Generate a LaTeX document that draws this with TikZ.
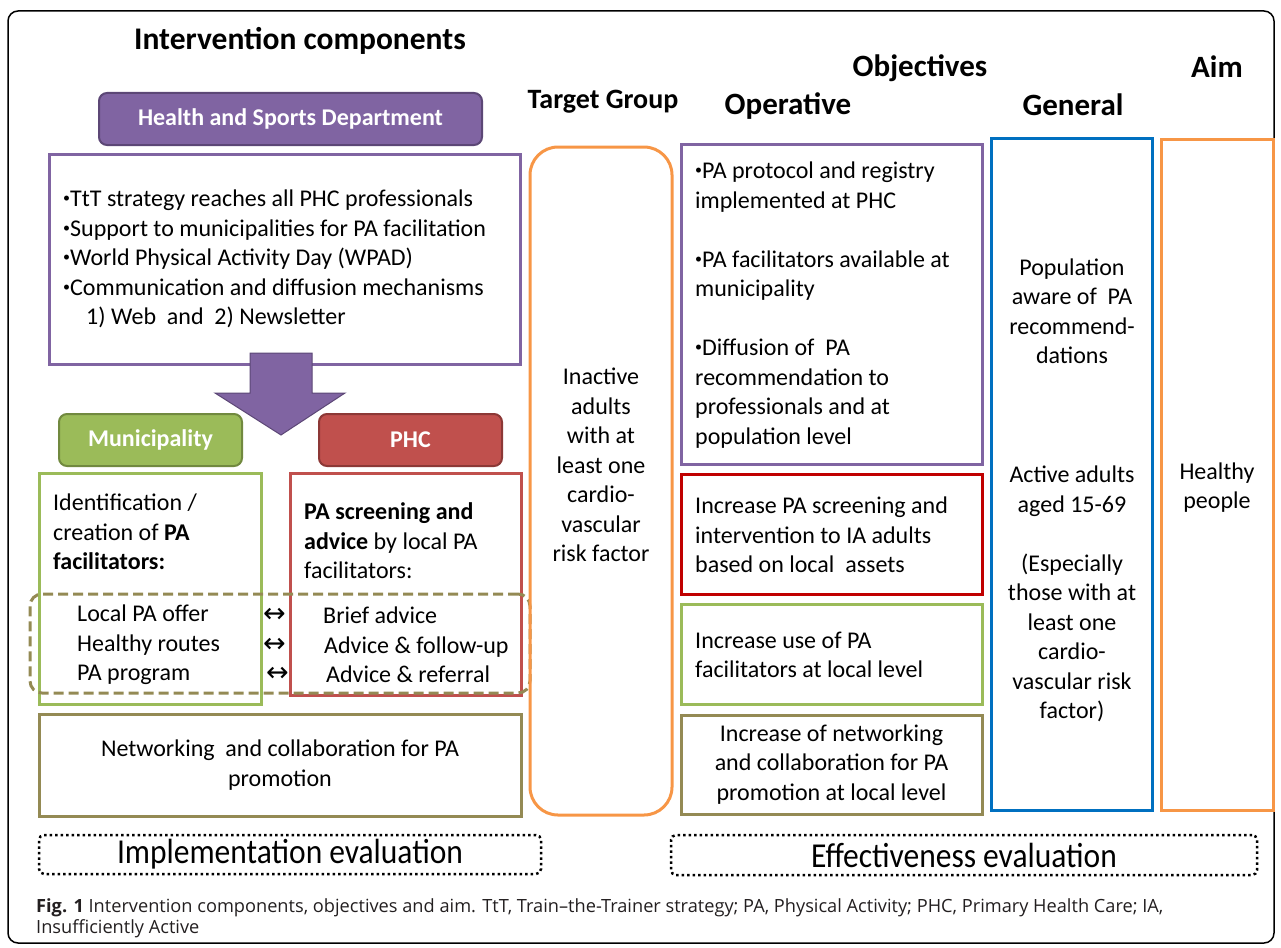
\documentclass[tikz,border=0pt]{standalone}
\usepackage{fontspec}
\setmainfont{Carlito}
\newfontfamily\capfont{Open Sans}
\newfontfamily\arrfont{DejaVu Sans}
\newfontfamily\evalfont[FakeStretch=0.9]{Carlito}

\definecolor{hsdpurple}{HTML}{8064A2}
\definecolor{hsdedge}{HTML}{5C4776}
\definecolor{munigreen}{HTML}{9BBB59}
\definecolor{muniedge}{HTML}{71893F}
\definecolor{phcred}{HTML}{C0504D}
\definecolor{phcedge}{HTML}{8C3836}
\definecolor{olive}{HTML}{948A54}
\definecolor{tgorange}{HTML}{F79646}
\definecolor{genblue}{HTML}{0070C0}
\definecolor{opred}{HTML}{C00000}
\definecolor{captext}{HTML}{231F20}

% 小号圆点
\newcommand{\bul}{\raisebox{4pt}{\fontsize{14}{14}\selectfont•}}

\begin{document}
\begin{tikzpicture}[x=1pt, y=-1pt,
    every node/.style={inner sep=0pt},
    head/.style={font=\bfseries\fontsize{31}{36}\selectfont},
    tag/.style={rectangle, rounded corners=8pt, line width=2pt, text=white,
      font=\bfseries\fontsize{24}{29}\selectfont},
    obox/.style={rectangle, line width=3pt},
    body/.style={font=\fontsize{24}{29.5}\selectfont, align=left},
    cbody/.style={font=\fontsize{24}{29.5}\selectfont, align=center},
    evalbox/.style={rectangle, draw=black, line width=2.5pt,
      dash pattern=on 2.5pt off 3pt, rounded corners=5pt,
      font=\evalfont\fontsize{35}{40}\selectfont}]

  \useasboundingbox (0,0) rectangle (1281,947);

  % 外框
  \node[rectangle, draw=black, line width=1.5pt, rounded corners=10pt,
    minimum width=1266pt, minimum height=932pt] (page) at (641,477) {};

  % 栏目标题
  \node[head, font=\bfseries\fontsize{31.5}{36}\selectfont] (intcomp) at (300,41) {Intervention components};
  \node[head] (objt) at (920,68) {Objectives};
  \node[head] (aimt) at (1217,67) {Aim};
  \node[head, font=\bfseries\fontsize{28}{33}\selectfont] (tgt) at (603,102) {Target Group};
  \node[head] (opt) at (788,106) {Operative};
  \node[head] (gent) at (1073,105) {General};

  % 卫生与体育部门
  \node[tag, fill=hsdpurple, draw=hsdedge, minimum width=383pt, minimum height=52pt]
    (hsd) at (290.5,119) {Health and Sports Department};
  \node[obox, draw=hsdpurple, minimum width=471pt, minimum height=210pt] (pbox) at (284.5,259) {};
  \node[body, anchor=west] (pboxtxt) at (63,259) {%
    \bul TtT strategy reaches all PHC professionals\\
    \bul Support to municipalities for PA facilitation\\
    \bul World Physical Activity Day (WPAD)\\
    \bul Communication and diffusion mechanisms\\
    \hspace*{23pt}1) Web\ \ and\ \ 2) Newsletter};

  % 向下的大箭头
  \filldraw[fill=hsdpurple, draw=hsdedge, line width=1pt]
    (250,353) -- (312,353) -- (312,393) -- (345,393) -- (281,435)
    -- (215,393) -- (250,393) -- cycle;

  % 市政与初级卫生保健
  \node[tag, fill=munigreen, draw=muniedge, minimum width=183pt, minimum height=52pt]
    (muni) at (150.5,440) {Municipality};
  \node[tag, fill=phcred, draw=phcedge, minimum width=183pt, minimum height=52pt]
    (phc) at (410.5,440) {PHC};
  \node[obox, draw=munigreen, minimum width=222pt, minimum height=231pt] (gbox) at (150,588.5) {};
  \node[obox, draw=phcred, minimum width=231pt, minimum height=222pt] (rbox) at (405.5,584) {};
  \node[body, anchor=west] (gboxtxt) at (53,532) {%
    Identification /\\creation of \textbf{PA}\\\textbf{facilitators:}};
  \node[body, anchor=west] (rboxtxt) at (304,541) {%
    \textbf{PA screening and}\\\textbf{advice} by local PA\\facilitators:};

  % 虚线框：两边一一对应
  \node[rectangle, draw=olive, line width=3pt, dash pattern=on 10pt off 5pt,
    rounded corners=12pt, minimum width=500pt, minimum height=99pt] (pairs) at (280,643.5) {};
  \node[body, anchor=west] (offer) at (77,645) {Local PA offer\\Healthy routes\\PA program};
  \node[body, anchor=west, font=\arrfont\fontsize{27}{29.5}\selectfont] (links) at (263,645) {%
    ↔\\↔\\\hspace*{3pt}↔};
  \node[body, anchor=west] (advice) at (323,645) {%
    Brief advice\\\hspace*{1pt}Advice \& follow-up\\\hspace*{3pt}Advice \& referral};

  % 网络与合作
  \node[obox, draw=olive, cbody, minimum width=482pt, minimum height=102pt] (net) at (280,765) {%
    Networking\ \ and collaboration for PA\\promotion};

  % 目标人群
  \node[obox, draw=tgorange, rounded corners=28pt, minimum width=142pt, minimum height=668pt]
    (tgbox) at (601,481) {};
  \node[cbody] (tgtxt) at (601,465) {%
    Inactive\\adults\\with at\\least one\\cardio-\\vascular\\risk factor};

  % 操作性目标
  \node[obox, draw=hsdpurple, minimum width=301pt, minimum height=320pt] (op1) at (831.5,304) {};
  \node[body, anchor=west] (op1txt) at (695,305) {%
    \bul PA protocol and registry\\implemented at PHC\\[29.5pt]
    \bul PA facilitators available at\\municipality\\[29.5pt]
    \bul Diffusion of\ \ PA\\recommendation to\\professionals and at\\population level};
  \node[obox, draw=opred, minimum width=301pt, minimum height=120pt] (op2) at (831.5,534) {};
  \node[body, anchor=west] (op2txt) at (695,535) {%
    Increase PA screening and\\intervention to IA adults\\based on local\ \ assets};
  \node[obox, draw=munigreen, minimum width=301pt, minimum height=100pt] (op3) at (831.5,654) {};
  \node[body, anchor=west] (op3txt) at (695,655) {%
    Increase use of PA\\facilitators at local level};
  \node[obox, draw=olive, cbody, minimum width=301pt, minimum height=99pt] (op4) at (831.5,764.5) {%
    Increase of networking\\and collaboration for PA\\promotion at local level};

  % 总体目标
  \node[obox, draw=genblue, minimum width=161pt, minimum height=672pt] (gen) at (1071.5,474) {};
  \node[cbody] (gentxt) at (1072,311.5) {%
    Population\\aware of\ \ PA\\recommend-\\dations};
  \node[cbody] (acttxt) at (1072,594) {%
    Active adults\\aged 15-69\\[29.5pt](Especially\\those with at\\least one\\cardio-\\vascular risk\\factor)};

  % 最终目的
  \node[obox, draw=tgorange, minimum width=112pt, minimum height=671pt] (aim) at (1217,474.5) {};
  \node[cbody] (aimtxt) at (1217,487.5) {Healthy\\people};

  % 评价
  \node[evalbox, minimum width=502pt, minimum height=39pt] (impl) at (290,854.5)
    {Implementation\hspace{7pt}evaluation};
  \node[evalbox, minimum width=586pt, minimum height=40pt] (eff) at (964,855)
    {Effectiveness\hspace{7pt}evaluation};

  % 图注
  \node[anchor=west, align=left, text=captext, font=\capfont\fontsize{18.2}{21}\selectfont]
    (cap) at (36,918) {%
    \textbf{Fig. 1} Intervention components, objectives and aim. TtT, Train–the-Trainer strategy; PA, Physical Activity; PHC, Primary Health Care; IA,\\
    Insufficiently Active};

\end{tikzpicture}
\end{document}
